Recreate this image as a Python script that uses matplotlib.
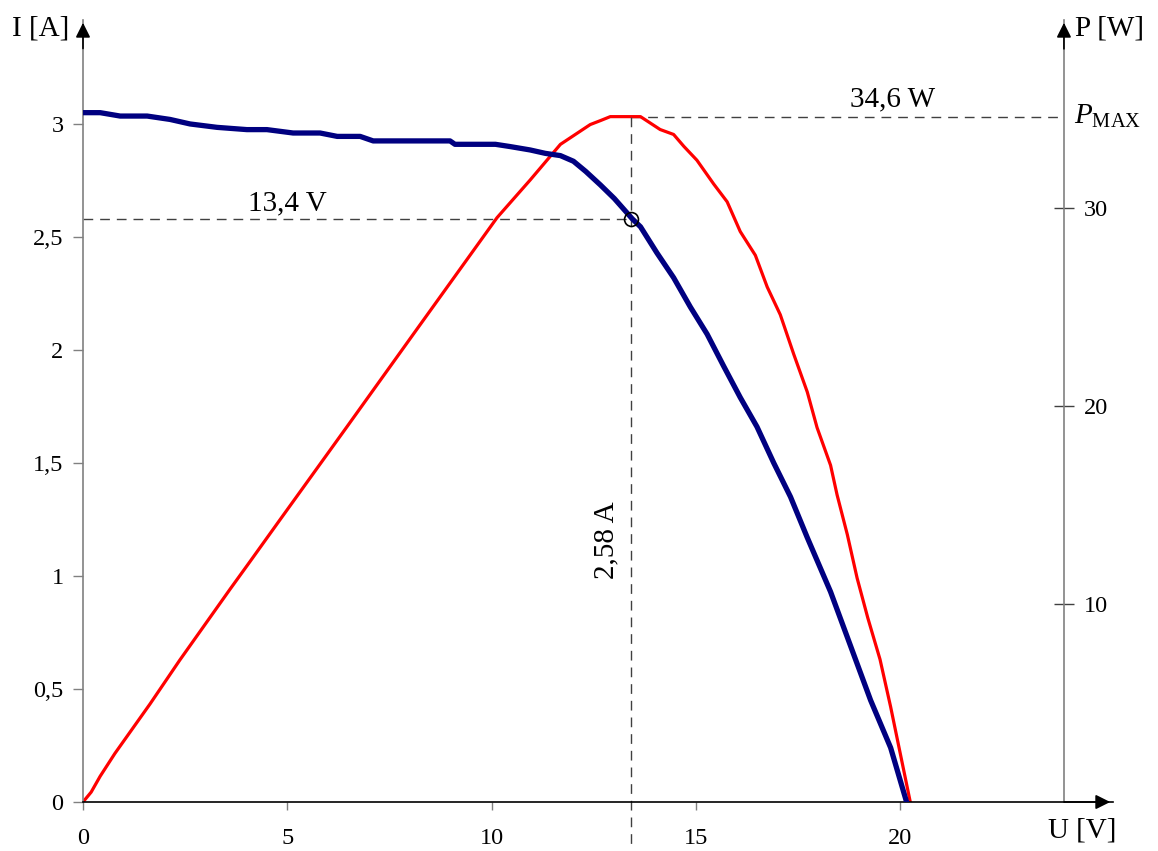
import matplotlib
matplotlib.use("Agg")
import matplotlib.pyplot as plt
import numpy as np

plt.rcParams['font.family'] = ['Liberation Serif', 'DejaVu Serif']
plt.rcParams['mathtext.fontset'] = 'custom'
plt.rcParams['mathtext.rm'] = 'Liberation Serif'
plt.rcParams['mathtext.it'] = 'Liberation Serif:italic'

# ---- data ----
U_I = [0, 0.42, 0.91, 1.57, 2.13, 2.62, 3.28, 4.01, 4.5, 5.14, 5.8, 6.22, 6.78, 7.1,
       8.98, 9.1, 10.09, 10.45, 10.94, 11.31, 11.68, 12.0, 12.3, 12.66, 13.0, 13.44,
       13.64, 14.04, 14.45, 14.86, 15.27, 15.67, 16.08, 16.49, 16.9, 17.31, 17.72,
       18.29, 18.78, 19.27, 19.76, 20.15]
I_vals = [3.05, 3.05, 3.035, 3.035, 3.02, 3.0, 2.985, 2.975, 2.975, 2.96, 2.96, 2.945,
          2.945, 2.925, 2.925, 2.91, 2.91, 2.90, 2.885, 2.87, 2.86, 2.835, 2.79, 2.73,
          2.67, 2.58, 2.545, 2.43, 2.32, 2.19, 2.07, 1.93, 1.79, 1.66, 1.50, 1.35, 1.17,
          0.93, 0.69, 0.45, 0.24, 0.0]

U_P = [0, 0.2, 0.42, 0.78, 1.64, 2.37, 3.6, 4.09, 4.82, 6.46, 8.18, 10.13, 10.94, 11.68,
       12.41, 12.66, 12.9, 13.64, 14.12, 14.45, 14.7, 15.02, 15.43, 15.76, 16.08, 16.45,
       16.74, 17.06, 17.39, 17.72, 17.96, 18.29, 18.45, 18.7, 18.94, 19.2, 19.5, 19.76,
       19.93, 20.24]
P_vals = [0, 0.5, 1.3, 2.45, 4.95, 7.17, 10.75, 12.15, 14.25, 18.95, 23.9, 29.5, 31.4,
          33.2, 34.2, 34.4, 34.6, 34.6, 33.95, 33.7, 33.1, 32.4, 31.2, 30.3, 28.8, 27.6,
          26.0, 24.6, 22.6, 20.7, 18.9, 17.0, 15.5, 13.5, 11.3, 9.3, 7.2, 4.8, 3.1, 0]

I_ticks = [0, 0.5, 1, 1.5, 2, 2.5, 3]
I_ticklabels = ['0', '0,5', '1', '1,5', '2', '2,5', '3']
U_ticks = [0, 5, 10, 15, 20]
P_ticks = [10, 20, 30]

U_mpp = 13.4
I_mpp = 2.58
P_max = 34.6

# ---- layout ----
W, H = 1158, 851
fig = plt.figure(figsize=(W / 100, H / 100), dpi=100)
ax = fig.add_axes([83 / W, (H - 802) / H, (1113 - 83) / W, (802 - 20) / H])
xmax = 25.2
ymax = 3.46
pscale = 11.41
ax.set_xlim(0, xmax)
ax.set_ylim(0, ymax)
ax2 = ax.twinx()
ax2.set_ylim(0, ymax * pscale)
ax2.set_xlim(0, xmax)

gray = '#808080'
for s in ['top', 'right']:
    ax.spines[s].set_visible(False)
ax.spines['left'].set_color(gray)
ax.spines['left'].set_linewidth(1.2)
ax.spines['bottom'].set_color('black')
ax.spines['bottom'].set_linewidth(1.2)
for s in ['top', 'left', 'bottom']:
    ax2.spines[s].set_visible(False)
ax2.spines['right'].set_position(('data', 24))
ax2.spines['right'].set_color(gray)
ax2.spines['right'].set_linewidth(1.2)

ax.set_yticks(I_ticks)
ax.set_yticklabels(I_ticklabels)
ax.set_xticks(U_ticks)
ax.set_xticklabels([str(t) for t in U_ticks])
ax.tick_params(axis='y', direction='out', length=7, width=1, color=gray,
               labelsize=17.5, pad=7)
ax.tick_params(axis='x', direction='out', length=6, width=1, color=gray,
               labelsize=17.5, pad=13)
ax2.set_yticks(P_ticks)
ax2.set_yticklabels([str(t) for t in P_ticks])
ax2.tick_params(axis='y', direction='inout', length=14, width=1, color='#404040',
                labelsize=17.5, pad=7)

# arrows
ax.annotate('', xy=(0, 1), xytext=(0, 0.96), xycoords='axes fraction',
            arrowprops=dict(arrowstyle='-|>', color='black', lw=1.2, mutation_scale=22))
ax.annotate('', xy=(24, ymax), xytext=(24, ymax - 0.14), xycoords='data',
            arrowprops=dict(arrowstyle='-|>', color='black', lw=1.2, mutation_scale=22))
ax.annotate('', xy=(1, 0), xytext=(0.95, 0), xycoords='axes fraction',
            arrowprops=dict(arrowstyle='-|>', color='black', lw=1.2, mutation_scale=22))

# dashed guide lines
dash = dict(color='#404040', lw=1.0, dashes=(7, 5))
ax.plot([0, U_mpp], [I_mpp, I_mpp], **dash)
ax.plot([U_mpp, U_mpp], [P_max / pscale, -0.19], clip_on=False, **dash)
ax2.plot([U_mpp, 24], [P_max, P_max], **dash)

# curves
ax2.plot(U_P, P_vals, color='#ff0000', lw=2.3, solid_joinstyle='round', zorder=3)
ax.plot(U_I, I_vals, color='#000080', lw=3.8, solid_joinstyle='round', zorder=4)
ax.set_zorder(ax2.get_zorder() + 1)
ax.patch.set_visible(False)
ax.plot([U_mpp], [I_mpp], marker='o', ms=10, mfc='none', mec='black', mew=1.2, zorder=6)

# texts
ax.text(5.0, I_mpp + 0.012, '13,4 V', ha='center', va='bottom', fontsize=21)
ax2.text(19.8, P_max + 0.2, '34,6 W', ha='center', va='bottom', fontsize=21)
ax.text(12.8, 1.16, '2,58 A', ha='center', va='center', rotation=90, fontsize=21)
ax2.text(24.25, P_max, r'$P_{\mathrm{MAX}}$', ha='left', va='center', fontsize=21)

fig.text(12 / W, 1 - 28 / H, 'I [A]', ha='left', va='center', fontsize=21)
fig.text(1075 / W, 1 - 28 / H, 'P [W]', ha='left', va='center', fontsize=21)
fig.text(1116 / W, 1 - 830 / H, 'U [V]', ha='right', va='center', fontsize=21)

fig.savefig('out.png', dpi=100)
